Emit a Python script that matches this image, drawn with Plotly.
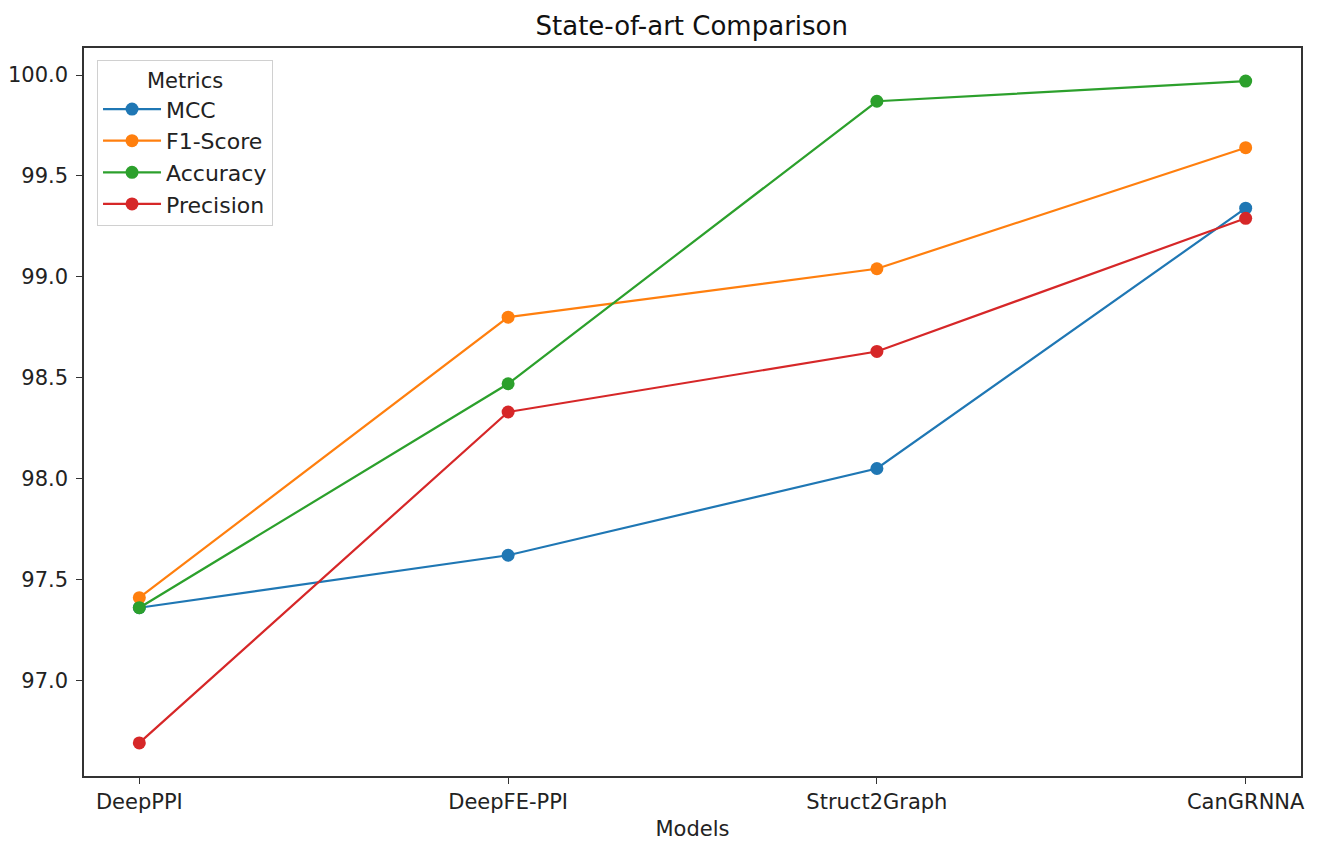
import plotly.graph_objects as go

models = ["DeepPPI", "DeepFE-PPI", "Struct2Graph", "CanGRNNA"]
mcc = [97.36, 97.62, 98.05, 99.34]
f1_score = [97.41, 98.80, 99.04, 99.64]
accuracy = [97.36, 98.47, 99.87, 99.97]
precision = [96.69, 98.33, 98.63, 99.29]

series = [
    ("MCC", mcc, "#1f77b4"),
    ("F1-Score", f1_score, "#ff7f0e"),
    ("Accuracy", accuracy, "#2ca02c"),
    ("Precision", precision, "#d62728"),
]

fig = go.Figure()
for name, vals, color in series:
    fig.add_trace(go.Scatter(
        x=list(range(len(models))), y=vals, name=name, mode="lines+markers",
        line=dict(color=color, width=2.2), marker=dict(color=color, size=13),
    ))

font = "DejaVu Sans"
fig.update_layout(
    width=1320, height=841,
    paper_bgcolor="white", plot_bgcolor="white",
    margin=dict(l=76, r=27, t=40, b=73),
    font=dict(family=font, size=21, color="#222"),
    title=dict(text="State-of-art Comparison", x=0.518, xanchor="center", y=0.979, yanchor="middle",
               font=dict(size=26, color="#111")),
    showlegend=True,
    legend=dict(
        title=dict(text="Metrics", side="top center", font=dict(size=21)),
        x=0.0107, y=0.9835, xanchor="left", yanchor="top",
        bgcolor="rgba(255,255,255,0.8)", bordercolor="#d0d0d0", borderwidth=1,
        font=dict(size=22), itemwidth=58, tracegroupgap=0,
    ),
    xaxis=dict(
        range=[-0.15, 3.15], tickmode="array", tickvals=list(range(len(models))), ticktext=models,
        showgrid=False, zeroline=False, showline=True, mirror=True, linecolor="#333", linewidth=1.5,
        ticks="outside", ticklen=6, tickcolor="#333", automargin=False,
        title=dict(text="Models", font=dict(size=21), standoff=8),
    ),
    yaxis=dict(
        range=[96.526, 100.134], tickmode="array",
        tickvals=[97.0, 97.5, 98.0, 98.5, 99.0, 99.5, 100.0],
        ticktext=["97.0", "97.5", "98.0", "98.5", "99.0", "99.5", "100.0"],
        showgrid=False, zeroline=False, showline=True, mirror=True, linecolor="#333", linewidth=1.5,
        ticks="outside", ticklen=6, tickcolor="#333", automargin=False, ticklabelstandoff=4,
    ),
)
fig.write_html("out.html")
